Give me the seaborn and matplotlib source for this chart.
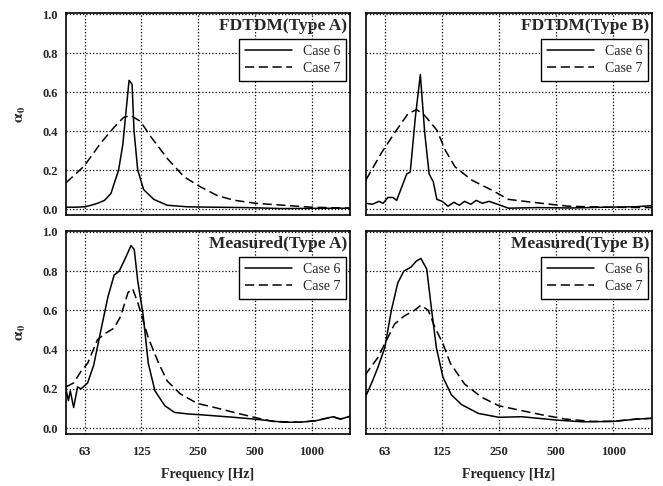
import numpy as np
import pandas as pd
import matplotlib
matplotlib.use("Agg")
import matplotlib.pyplot as plt
import seaborn as sns

# --- values ---
# FDTDM (Type A)
fa6_freq = [50, 56, 63, 68, 73.5, 80, 86.5, 95, 100, 104, 108, 112, 114.7, 120, 129, 146, 172, 220, 300, 450, 700, 1000, 1600]
fa6_alpha = [0.01, 0.01, 0.012, 0.02, 0.03, 0.045, 0.08, 0.2, 0.33, 0.5, 0.66, 0.64, 0.4, 0.2, 0.1, 0.05, 0.02, 0.012, 0.01, 0.008, 0.003, 0.004, 0.005]
fa7_freq = [50, 62.3, 76.6, 90, 101, 110, 124, 141, 172, 211, 257, 316, 387, 505, 710, 1000, 1600]
fa7_alpha = [0.135, 0.22, 0.34, 0.42, 0.47, 0.48, 0.45, 0.37, 0.26, 0.166, 0.115, 0.07, 0.046, 0.03, 0.02, 0.01, 0.005]

# FDTDM (Type B)
fb6_freq = [50, 54, 58.5, 61.5, 65.3, 69.3, 72.5, 76.9, 81.9, 85.5, 90.9, 96.6, 101.9, 107.5, 113, 118, 126,
            135, 145, 155, 165, 178, 190, 205, 222, 238, 281, 400, 600, 900, 1300, 1600]
fb6_alpha = [0.03, 0.025, 0.04, 0.03, 0.06, 0.06, 0.045, 0.11, 0.18, 0.19, 0.47, 0.69, 0.39, 0.18, 0.14, 0.05, 0.04,
             0.015, 0.035, 0.02, 0.04, 0.025, 0.045, 0.03, 0.04, 0.03, 0.005, 0.008, 0.006, 0.01, 0.012, 0.018]
fb7_freq = [50, 60, 70.6, 83.3, 92.4, 101.8, 118, 131, 147, 180, 230, 281, 356, 455, 584, 900, 1600]
fb7_alpha = [0.15, 0.285, 0.39, 0.49, 0.51, 0.48, 0.405, 0.30, 0.217, 0.149, 0.097, 0.05, 0.038, 0.026, 0.015, 0.01, 0.008]

# Measured (Type A)
ma6_freq = [50, 51.5, 52.7, 54.9, 57.6, 60.1, 65.1, 70.1, 76.6, 83.5, 90, 95.7, 103.7, 110.5, 115, 120, 128, 136.5,
            148, 167, 188, 222, 259, 388, 496, 709, 870, 1060, 1300, 1420, 1600]
ma6_alpha = [0.2, 0.14, 0.19, 0.105, 0.21, 0.2, 0.23, 0.32, 0.5, 0.67, 0.78, 0.80, 0.87, 0.93, 0.91, 0.75, 0.58, 0.33,
             0.19, 0.114, 0.08, 0.072, 0.068, 0.055, 0.046, 0.03, 0.03, 0.038, 0.058, 0.046, 0.06]
ma7_freq = [50, 54.9, 60.1, 65.1, 73.4, 80, 90, 97.5, 106.5, 112.7, 120, 128, 136.5, 155, 172, 202, 248, 316, 388,
            496, 626, 870, 1060, 1300, 1420, 1600]
ma7_alpha = [0.21, 0.23, 0.29, 0.33, 0.45, 0.48, 0.51, 0.57, 0.69, 0.71, 0.64, 0.55, 0.46, 0.33, 0.24, 0.174, 0.126,
             0.102, 0.08, 0.055, 0.034, 0.03, 0.038, 0.058, 0.046, 0.06]

# Measured (Type B)
mb6_freq = [49, 50.3, 54.1, 57.8, 62.8, 68, 73.5, 79.1, 86.3, 91.8, 97.2, 104.4, 110.8, 117.3, 127, 140.6, 159, 195,
            250, 330, 501, 692, 1000, 1330, 1600]
mb6_alpha = [0.2, 0.17, 0.24, 0.31, 0.41, 0.6, 0.74, 0.80, 0.82, 0.85, 0.865, 0.81, 0.6, 0.41, 0.26, 0.17, 0.12, 0.075,
             0.055, 0.058, 0.041, 0.032, 0.034, 0.046, 0.05]
mb7_freq = [49, 50.3, 57.8, 62.8, 70.7, 79.1, 90, 97.2, 106.4, 115, 127, 139, 165, 203, 250, 330, 420, 560, 780,
            1000, 1330, 1600]
mb7_alpha = [0.27, 0.28, 0.36, 0.43, 0.53, 0.57, 0.6, 0.626, 0.6, 0.515, 0.43, 0.33, 0.225, 0.157, 0.114, 0.089,
             0.068, 0.046, 0.034, 0.035, 0.046, 0.05]

panel_titles = ["FDTDM(Type A)", "FDTDM(Type B)", "Measured(Type A)", "Measured(Type B)"]
case_labels = ["Case 6", "Case 7"]
freq_ticks = [63, 125, 250, 500, 1000]
y_ticks = [0.0, 0.2, 0.4, 0.6, 0.8, 1.0]

panels = [
    ((fa6_freq, fa6_alpha), (fa7_freq, fa7_alpha)),
    ((fb6_freq, fb6_alpha), (fb7_freq, fb7_alpha)),
    ((ma6_freq, ma6_alpha), (ma7_freq, ma7_alpha)),
    ((mb6_freq, mb6_alpha), (mb7_freq, mb7_alpha)),
]

sns.set_style("white")
plt.rcParams['font.family'] = ['Liberation Serif', 'DejaVu Serif']
plt.rcParams['mathtext.fontset'] = 'stix'

fig = plt.figure(figsize=(6.63, 4.86), dpi=100)
boxes = [
    [0.0995, 0.5576, 0.4285, 0.4156],
    [0.552, 0.5576, 0.4315, 0.4156],
    [0.0995, 0.107, 0.4285, 0.418],
    [0.552, 0.107, 0.4315, 0.418],
]

for i, (box, (c6, c7)) in enumerate(zip(boxes, panels)):
    ax = fig.add_axes(box)
    sns.lineplot(x=c6[0], y=c6[1], ax=ax, color='k', lw=1.1, estimator=None, sort=False, label=case_labels[0])
    sns.lineplot(x=c7[0], y=c7[1], ax=ax, color='k', lw=1.1, estimator=None, sort=False, label=case_labels[1],
                 dashes=False, linestyle=(0, (6, 3)))
    ax.set_xscale('log')
    ax.set_xlim(50, 1600)
    ax.set_ylim(-0.03, 1.005)
    ax.set_xticks(freq_ticks)
    ax.xaxis.set_minor_locator(matplotlib.ticker.NullLocator())
    ax.set_yticks(y_ticks)
    ax.grid(True, color='k', linestyle=':', linewidth=0.9)
    ax.tick_params(axis='y', length=0, pad=6)
    ax.tick_params(axis='x', length=0, pad=9)
    for s in ax.spines.values():
        s.set_color('k')
        s.set_linewidth(1.2)

    if i >= 2:
        ax.set_xticklabels([str(t) for t in freq_ticks], fontsize=9, fontweight='bold')
        ax.set_xlabel("Frequency [Hz]", fontsize=10, fontweight='bold', labelpad=7)
    else:
        ax.set_xticklabels([])
        ax.set_xlabel("")
    if i % 2 == 0:
        ax.set_yticklabels([f"{t:.1f}" for t in y_ticks], fontsize=9, fontweight='bold')
        ax.set_ylabel(r"$\mathbf{\alpha_0}$", fontsize=11, labelpad=10)
    else:
        ax.set_yticklabels([])
        ax.set_ylabel("")

    ax.text(0.99, 0.975, panel_titles[i], transform=ax.transAxes, ha='right', va='top',
            fontsize=12.5, fontweight='bold')
    ax.legend(loc='upper right', bbox_to_anchor=(0.985, 0.87), frameon=True, fancybox=False,
              edgecolor='k', framealpha=1, fontsize=10, handlelength=3.4, borderpad=0.4,
              labelspacing=0.3, borderaxespad=0.0, markerfirst=True)
    leg = ax.get_legend()
    leg.get_frame().set_linewidth(1.0)

fig.savefig("out.png", dpi=100)
